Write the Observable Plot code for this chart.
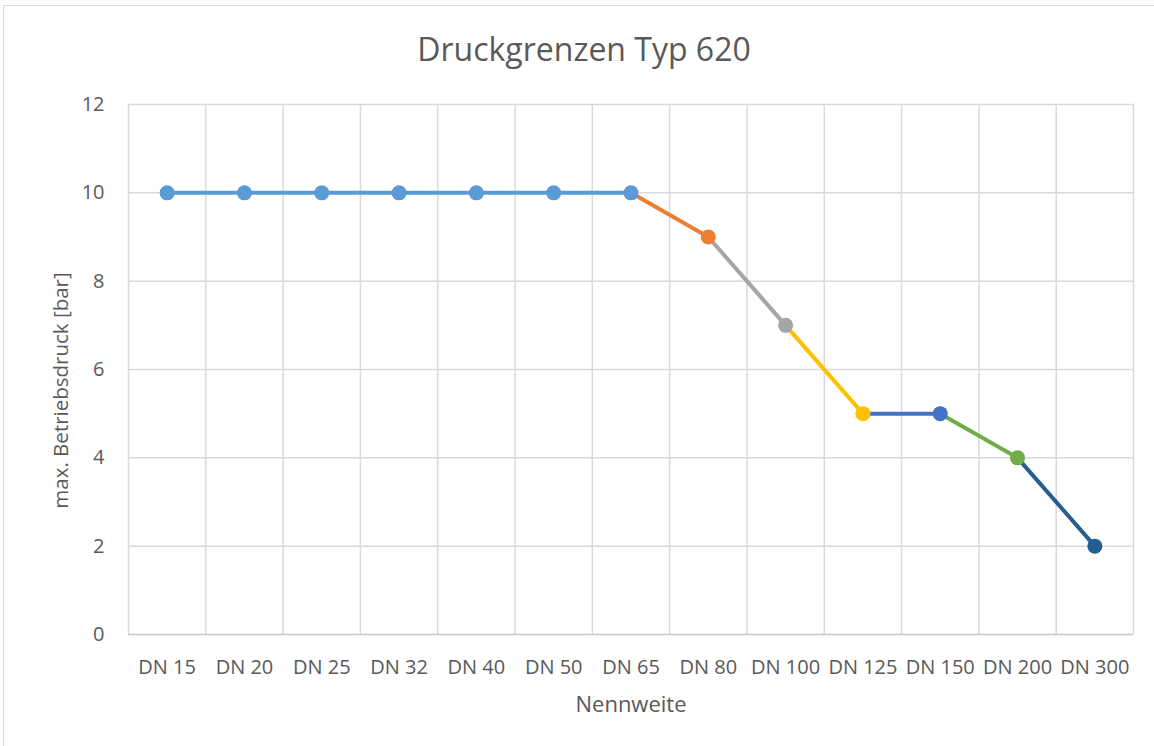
<!DOCTYPE html>
<html><head><meta charset="utf-8">
<script src="https://cdn.jsdelivr.net/npm/d3@7"></script>
<script src="https://cdn.jsdelivr.net/npm/@observablehq/plot@0.6"></script>
<style>
body{margin:0;background:#fff;font-family:"Open Sans",sans-serif;width:1154px;height:746px;overflow:hidden;position:relative}
#frame{position:absolute;left:3px;top:5px;width:1200px;height:800px;border:1px solid #d9d9d9;box-sizing:border-box}
#title{position:absolute;left:7px;top:28px;width:1154px;line-height:42px;text-align:center;font-size:32px;color:#595959}
#chart{position:absolute;left:0;top:80px}
</style></head>
<body>
<div id="frame"></div>
<div id="title">Druckgrenzen Typ 620</div>
<div id="chart"></div>
<script>
const categories = ["DN 15","DN 20","DN 25","DN 32","DN 40","DN 50","DN 65","DN 80","DN 100","DN 125","DN 150","DN 200","DN 300"];
const pressure = [10,10,10,10,10,10,10,9,7,5,5,4,2];
const pointColors = ["#5B9BD5","#5B9BD5","#5B9BD5","#5B9BD5","#5B9BD5","#5B9BD5","#5B9BD5","#ED7D31","#A5A5A5","#FFC000","#4472C4","#70AD47","#255E91"];
const segmentColors = ["#5B9BD5","#5B9BD5","#5B9BD5","#5B9BD5","#5B9BD5","#5B9BD5","#ED7D31","#A5A5A5","#FFC000","#4472C4","#70AD47","#255E91"];
const yTicks = [0,2,4,6,8,10,12];
const xTitle = "Nennweite";
const yTitle = "max. Betriebsdruck [bar]";

const points = categories.map((c,i)=>({pos:i+0.5, cat:c, v:pressure[i], color:pointColors[i]}));
const segments = segmentColors.map((col,i)=>({x1:points[i].pos, y1:points[i].v, x2:points[i+1].pos, y2:points[i+1].v, color:col}));
const boundaries = d3.range(0, categories.length+1);

const chart = Plot.plot({
  width:1154, height:666,
  marginLeft:128, marginRight:21, marginTop:24, marginBottom:112,
  style:{fontFamily:"'Open Sans', sans-serif", fontSize:"20px", color:"#595959", background:"transparent"},
  x:{type:"linear", domain:[0, categories.length]},
  y:{domain:[0,12]},
  marks:[
    Plot.ruleY(yTicks.filter(t=>t>0), {stroke:"#d9d9d9", strokeWidth:1.5, strokeOpacity:1}),
    Plot.ruleX(boundaries, {stroke:"#d9d9d9", strokeWidth:1.5, strokeOpacity:1}),
    Plot.ruleY([0], {stroke:"#c8c8c8", strokeWidth:1.5, strokeOpacity:1}),
    Plot.axisY({ticks:yTicks, tickSize:0, tickPadding:24, label:null, fill:"#595959"}),
    Plot.axisX({ticks:points.map(p=>p.pos), tickFormat:(d)=>categories[Math.floor(d)], tickSize:0, tickPadding:25, label:null, fill:"#595959"}),
    Plot.link(segments, {x1:"x1", y1:"y1", x2:"x2", y2:"y2", stroke:"color", strokeWidth:4, strokeLinecap:"round"}),
    Plot.dot(points, {x:"pos", y:"v", fill:"color", r:7.5, stroke:null}),
    Plot.text([xTitle], {frameAnchor:"bottom", dy:77, fill:"#595959", fontSize:22}),
    Plot.text([yTitle], {frameAnchor:"left", textAnchor:"middle", rotate:-90, dx:-67, dy:21, fill:"#595959", fontSize:20.5})
  ]
});
document.getElementById("chart").appendChild(chart);
</script>
</body></html>
